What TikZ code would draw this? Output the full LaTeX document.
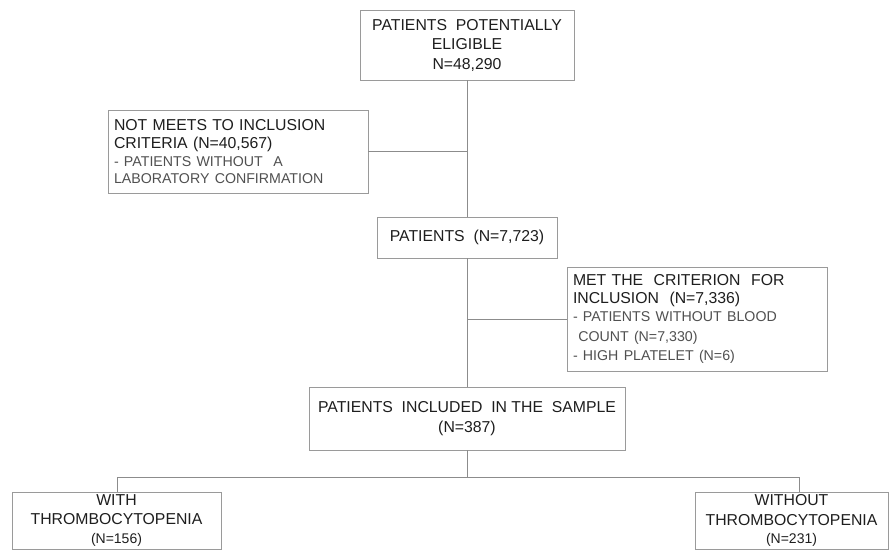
\documentclass[tikz,border=0pt]{standalone}
\usepackage{fontspec}
\setmainfont{Liberation Sans}
\definecolor{boxc}{HTML}{9A9A9A}
\definecolor{linec}{HTML}{8C8C8C}
\definecolor{headc}{HTML}{1E1E1E}
\definecolor{subc}{HTML}{505050}
\newcommand{\hd}{\fontsize{15.8}{19.5}\selectfont\color{headc}}
\newcommand{\sbt}{\fontsize{14.2}{17.5}\selectfont\color{subc}}
\begin{document}
\begin{tikzpicture}[x=1pt,y=-1pt,
  fbox/.style={draw=boxc,line width=0.9pt,rectangle,inner sep=0pt,align=center,font=\hd},
  lbox/.style={draw=boxc,line width=0.9pt,rectangle,inner sep=0pt,align=left,font=\hd},
  conn/.style={draw=linec,line width=0.9pt}]
\useasboundingbox (0,0) rectangle (893,550);
\clip (0,0) rectangle (893,550);
\fill[white] (0,0) rectangle (893,550);
\node[fbox,minimum width=214,minimum height=70] (top) at (467,45)
  {PATIENTS\ \ POTENTIALLY\\ELIGIBLE\\N=48,290};
\node[lbox,minimum width=260,minimum height=83,text width=248] (left) at (238,151.5)
  {NOT MEETS TO INCLUSION\\[-1pt]CRITERIA (N=40,567)\\[-2pt]{\sbt - PATIENTS WITHOUT\ \ A}\\[-2pt]{\sbt LABORATORY CONFIRMATION}};
\node[lbox,minimum width=260,minimum height=104,text width=248] (right) at (697,319)
  {MET THE\ \ CRITERION\ \ FOR\\[-1.5pt]INCLUSION\ \ (N=7,336)\\[-1.5pt]{\sbt - PATIENTS WITHOUT BLOOD}\\{\sbt \ COUNT (N=7,330)}\\{\sbt - HIGH PLATELET (N=6)}};
\node[fbox,minimum width=180,minimum height=41] (pat) at (467,237.5)
  {PATIENTS\ \ (N=7,723)};
\node[fbox,minimum width=316,minimum height=63] (samp) at (467,418.5)
  {PATIENTS\ \ INCLUDED\ \ IN THE\ \ SAMPLE\\(N=387)};
\node[fbox,minimum width=209,minimum height=57] (wt) at (116.5,520.5)
  {WITH\\THROMBOCYTOPENIA\\[-1pt]{\fontsize{14}{17}\selectfont (N=156)}};
\node[fbox,minimum width=193,minimum height=57] (wo) at (791.5,520.5)
  {WITHOUT\\THROMBOCYTOPENIA\\[-1pt]{\fontsize{14}{17}\selectfont (N=231)}};
\coordinate (hl) at (117,477);
\coordinate (hr) at (799,477);
\coordinate (hm) at (467,477);
\draw[conn] (top.south) -- (pat.north);
\draw[conn] (left.east) -- (left.east -| top.south);
\draw[conn] (pat.south) -- (samp.north);
\draw[conn] (right.west) -- (right.west -| pat.south);
\draw[conn] (samp.south) -- (hm);
\draw[conn] (hl) -- (hr);
\draw[conn] (hl) -- (hl |- wt.north);
\draw[conn] (hr) -- (hr |- wo.north);
\end{tikzpicture}
\end{document}
